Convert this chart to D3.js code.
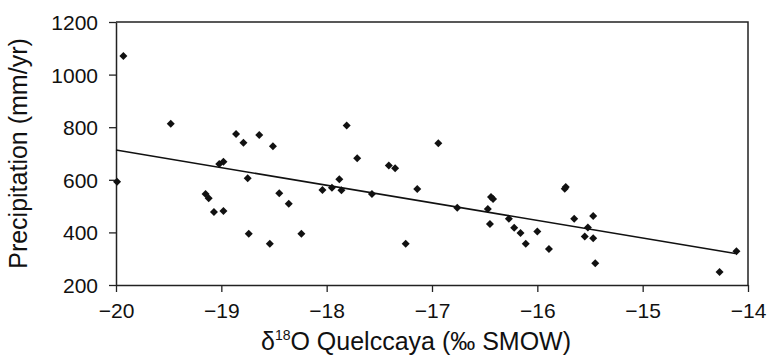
<!DOCTYPE html>
<html>
<head>
<meta charset="utf-8">
<script src="https://cdn.jsdelivr.net/npm/d3@7"></script>
<style>
  body { margin: 0; background: #fff; }
  svg { display: block; font-family: "Liberation Sans", Arial, sans-serif; }
</style>
</head>
<body>
<svg id="chart"></svg>
<script>
// d18O (per mil) vs precipitation (mm/yr)
const isotope = [
    -19.93, -19.48, -18.86, -18.79, -18.64, -18.51, -17.81, -16.94,
    -19.99, -19.02, -18.98, -18.75, -19.15, -19.12, -19.07, -18.98,
    -18.74, -18.54, -18.45, -18.36, -18.24, -18.04, -17.95, -17.88,
    -17.86, -17.71, -17.57, -17.41, -17.35, -17.25, -17.14, -16.76,
    -16.47, -16.44, -16.42, -16.45, -16.27, -16.22, -16.16, -16.11,
    -16.00, -15.89, -15.73, -15.74, -15.65, -15.52, -15.55, -15.47,
    -15.47, -15.45, -14.27, -14.11
];
const precip = [
    1071, 813, 774, 741, 770, 728, 806, 739,
    593, 660, 669, 606, 546, 530, 478, 481,
    395, 357, 549, 509, 395, 561, 570, 602,
    560, 682, 546, 654, 644, 357, 565, 494,
    489, 535, 527, 432, 452, 418, 398, 357,
    403, 337, 573, 566, 452, 419, 384, 462,
    378, 283, 249, 328
];
// fitted line end points
const trendX = [-20, -14.12];
const trendY = [713, 320];

const xTicks = [-20, -19, -18, -17, -16, -15, -14];
const yTicks = [200, 400, 600, 800, 1000, 1200];

const width = 770, height = 357;
const margin = { left: 116, right: 22, top: 22, bottom: 72 };

const svg = d3.select("#chart")
    .attr("width", width)
    .attr("height", height);

const x = d3.scaleLinear().domain([-20, -14]).range([margin.left, width - margin.right]);
const y = d3.scaleLinear().domain([200, 1200]).range([height - margin.bottom, margin.top]);

const fmt = d => d < 0 ? "\u2212" + Math.abs(d) : String(d);

// axes
const xAxis = svg.append("g")
    .attr("transform", `translate(0,${y(200)})`)
    .call(d3.axisBottom(x).tickValues(xTicks).tickFormat(fmt).tickSize(7).tickSizeOuter(0));
const yAxis = svg.append("g")
    .attr("transform", `translate(${x(-20)},0)`)
    .call(d3.axisLeft(y).tickValues(yTicks).tickFormat(d3.format("d")).tickSize(7).tickSizeOuter(0));

[xAxis, yAxis].forEach(g => {
    g.select(".domain").attr("stroke", "#222").attr("stroke-width", 1.5);
    g.selectAll(".tick line").attr("stroke", "#222").attr("stroke-width", 1.3);
    g.selectAll(".tick text")
        .attr("font-size", "21px")
        .attr("font-family", "Liberation Sans, Arial, sans-serif")
        .attr("fill", "#111");
});
xAxis.selectAll(".tick text").attr("y", 0).attr("dy", 0).attr("transform", "translate(0,33)");
yAxis.selectAll(".tick text").attr("x", -18).attr("dy", "0.36em");

// top and right frame
svg.append("path")
    .attr("d", `M${x(-20)},${y(1200)}H${x(-14)}V${y(200)}`)
    .attr("fill", "none")
    .attr("stroke", "#222")
    .attr("stroke-width", 1.5);

// regression line
svg.append("line")
    .attr("x1", x(trendX[0])).attr("y1", y(trendY[0]))
    .attr("x2", x(trendX[1])).attr("y2", y(trendY[1]))
    .attr("stroke", "#111")
    .attr("stroke-width", 1.6);

// points
const diamond = d3.symbol().type(d3.symbolSquare).size(32);
svg.append("g")
    .selectAll("path")
    .data(isotope.map((v, i) => [v, precip[i]]))
    .join("path")
    .attr("d", diamond)
    .attr("transform", d => `translate(${x(d[0])},${y(d[1])}) rotate(45)`)
    .attr("fill", "#111");

// axis titles
svg.append("text")
    .attr("transform", `translate(27,${(y(200) + y(1200)) / 2}) rotate(-90)`)
    .attr("text-anchor", "middle")
    .attr("font-size", "25px")
    .attr("fill", "#111")
    .text("Precipitation (mm/yr)");

const xt = svg.append("text")
    .attr("x", 416)
    .attr("y", 350)
    .attr("text-anchor", "middle")
    .attr("font-size", "25px")
    .attr("fill", "#111");
xt.append("tspan").text("\u03b4");
xt.append("tspan").attr("font-size", "14px").attr("dy", -10).text("18");
xt.append("tspan").attr("dy", 10).text("O Quelccaya (\u2030 SMOW)");
</script>
</body>
</html>
